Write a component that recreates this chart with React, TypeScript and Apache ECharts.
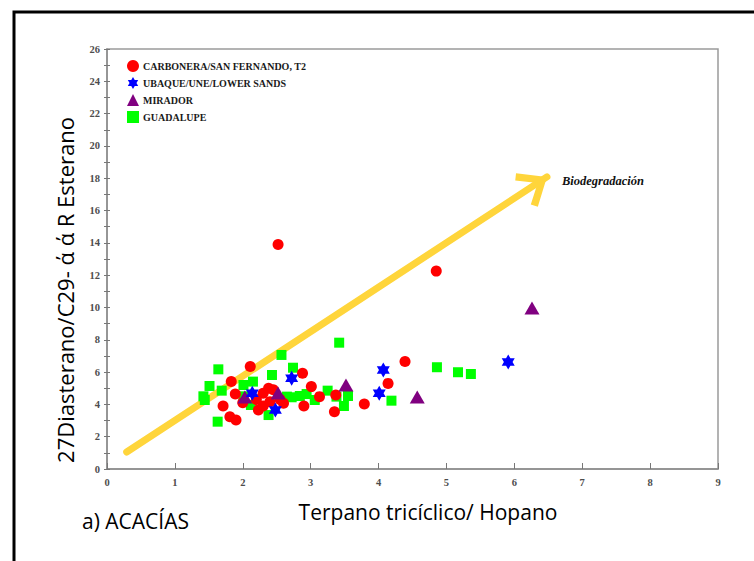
import React, { useEffect, useRef } from "react";
import * as echarts from "echarts";

// Terpano tricíclico/Hopano (x) vs 27Diasterano/C29 ααR esterano (y), one array per formation
const carboneraPoints: number[][] = [
  [2.52, 13.9], [4.85, 12.25], [4.39, 6.65], [4.14, 5.3], [3.79, 4.02], [3.35, 3.55],
  [2.88, 5.93], [3.01, 5.1], [3.13, 4.48], [3.37, 4.58], [2.9, 3.9], [2.6, 4.07],
  [2.11, 6.34], [1.83, 5.41], [1.89, 4.64], [1.71, 3.9], [1.81, 3.24], [1.9, 3.03],
  [2.3, 4.69], [2.38, 5.0], [2.23, 3.65], [2.4, 4.17], [2.0, 4.1], [2.45, 4.9],
  [2.2, 4.3], [2.55, 4.3], [2.3, 3.9],
];
const ubaquePoints: number[][] = [
  [2.14, 4.69], [2.48, 3.65], [2.72, 5.62], [4.01, 4.69], [4.07, 6.13], [5.91, 6.63],
];
const miradorPoints: number[][] = [
  [2.03, 4.45], [2.52, 4.7], [3.52, 5.2], [4.57, 4.45], [6.26, 9.97],
];
const guadalupePoints: number[][] = [
  [1.64, 6.17], [1.51, 5.14], [1.42, 4.5], [1.44, 4.27], [1.63, 2.93], [1.69, 4.85],
  [2.01, 5.2], [2.15, 5.41], [2.43, 5.82], [2.57, 7.06], [2.12, 3.96], [2.38, 3.34],
  [2.65, 4.48], [2.01, 4.5], [2.74, 6.27], [3.42, 7.82], [2.72, 4.44], [2.84, 4.52],
  [2.94, 4.64], [3.06, 4.27], [3.25, 4.85], [3.38, 4.48], [3.55, 4.52], [3.49, 3.9],
  [4.19, 4.23], [4.86, 6.3], [5.17, 5.99], [5.36, 5.88],
];

// Biodegradation trend arrow: start and tip in data units
const arrowStart = [0.29, 1.05];
const arrowTip = [6.48, 18.08];

const seriesNames = [
  "CARBONERA/SAN FERNANDO, T2",
  "UBAQUE/UNE/LOWER SANDS",
  "MIRADOR",
  "GUADALUPE",
];

const STAR =
  "path://M0,-100L28.87,-50L86.6,-50L57.74,0L86.6,50L28.87,50L0,100L-28.87,50L-86.6,50L-57.74,0L-86.6,-50L-28.87,-50Z";
// Open chevron with its tip at the centre of the bounding box
const CHEVRON =
  "path://M0,-22L0.01,-22L0,-21.99ZM0,0L15.4,18.4L11,22L0,8.5L-11,22L-15.4,18.4Z";

const tickFont = {
  fontFamily: "Liberation Serif",
  fontWeight: "bold" as const,
  fontSize: 10.5,
  color: "#4d4d4d",
};

export default function App() {
  const ref = useRef<HTMLDivElement>(null);

  useEffect(() => {
    if (!ref.current) return;
    const chart = echarts.init(ref.current, undefined, { renderer: "svg" });
    chart.setOption({
      animation: false,
      backgroundColor: "#ffffff",
      grid: {
        left: 107,
        top: 49,
        right: 36,
        bottom: 92,
        show: true,
        borderColor: "#9a9a9a",
        borderWidth: 1.5,
      },
      legend: {
        data: seriesNames,
        orient: "vertical",
        left: 127,
        top: 60,
        padding: 0,
        itemGap: 5,
        itemWidth: 12,
        itemHeight: 12,
        textStyle: {
          fontFamily: "Liberation Serif",
          fontWeight: "bold",
          fontSize: 10,
          color: "#1a1a1a",
          padding: [0, 0, 0, -1],
        },
      },
      xAxis: {
        type: "value",
        min: 0,
        max: 9,
        interval: 1,
        splitLine: { show: false },
        axisLine: { lineStyle: { color: "#8c8c8c", width: 1.5 } },
        axisTick: { inside: true, length: 6, lineStyle: { color: "#777" } },
        axisLabel: { ...tickFont, margin: 8 },
      },
      yAxis: [
        {
          type: "value",
          min: 0,
          max: 26,
          interval: 1,
          splitLine: { show: false },
          axisLine: { lineStyle: { color: "#8c8c8c", width: 1.5 } },
          axisTick: { length: 3, lineStyle: { color: "#777" } },
          axisLabel: {
            ...tickFont,
            margin: 7,
            formatter: (v: number) => (v % 2 === 0 ? String(v) : ""),
          },
        },
        {
          type: "value",
          position: "left",
          min: 0,
          max: 26,
          interval: 1,
          splitLine: { show: false },
          axisLine: { show: false },
          axisTick: { inside: true, length: 3, lineStyle: { color: "#777" } },
          axisLabel: { show: false },
        },
      ],
      series: [
        {
          name: "arrow",
          type: "line",
          silent: true,
          showSymbol: true,
          lineStyle: { color: "#FFD53B", width: 7, cap: "round" },
          itemStyle: { color: "#FFD53B", opacity: 1 },
          data: [
            { value: arrowStart, symbol: "none" },
            {
              value: arrowTip,
              symbol: CHEVRON,
              symbolSize: [40, 57],
              symbolRotate: -57,
            },
          ],
          z: 1,
        },
        {
          name: seriesNames[3],
          type: "scatter",
          symbol: "rect",
          symbolSize: 10,
          itemStyle: { color: "#00FF00", opacity: 1 },
          data: guadalupePoints,
          z: 2,
        },
        {
          name: seriesNames[0],
          type: "scatter",
          symbol: "circle",
          symbolSize: 11,
          itemStyle: { color: "#FF0000", opacity: 1 },
          data: carboneraPoints,
          z: 3,
        },
        {
          name: seriesNames[2],
          type: "scatter",
          symbol: "triangle",
          symbolSize: [15, 13],
          itemStyle: { color: "#800080", opacity: 1 },
          data: miradorPoints,
          z: 4,
        },
        {
          name: seriesNames[1],
          type: "scatter",
          symbol: STAR,
          symbolSize: [13, 15],
          itemStyle: { color: "#0000FF", opacity: 1 },
          data: ubaquePoints,
          z: 5,
        },
      ],
      graphic: [
        {
          type: "rect",
          left: 11.5,
          top: 9.5,
          shape: { width: 800, height: 600 },
          style: { fill: "none", stroke: "#000", lineWidth: 3 },
          silent: true,
        },
        {
          type: "text",
          x: 65,
          y: 290,
          rotation: Math.PI / 2,
          style: {
            text: "27Diasterano/C29- ά ά R Esterano",
            font: "22px 'Open Sans'",
            fill: "#000",
            textAlign: "center",
            textVerticalAlign: "middle",
          },
        },
        {
          type: "text",
          x: 428,
          y: 512,
          style: {
            text: "Terpano tricíclico/ Hopano",
            font: "21px 'Open Sans'",
            fill: "#000",
            textAlign: "center",
            textVerticalAlign: "middle",
          },
        },
        {
          type: "text",
          x: 82,
          y: 521,
          style: {
            text: "a) ACACÍAS",
            font: "21px 'Open Sans'",
            fill: "#000",
            textAlign: "left",
            textVerticalAlign: "middle",
          },
        },
        {
          type: "text",
          x: 562,
          y: 181,
          style: {
            text: "Biodegradación",
            font: "italic bold 12.5px 'Liberation Serif'",
            fill: "#111",
            textAlign: "left",
            textVerticalAlign: "middle",
          },
        },
      ],
    });
    return () => chart.dispose();
  }, []);

  return (
    <div
      ref={ref}
      style={{
        position: "fixed",
        left: 0,
        top: 0,
        width: 754,
        height: 561,
        background: "#fff",
      }}
    />
  );
}
